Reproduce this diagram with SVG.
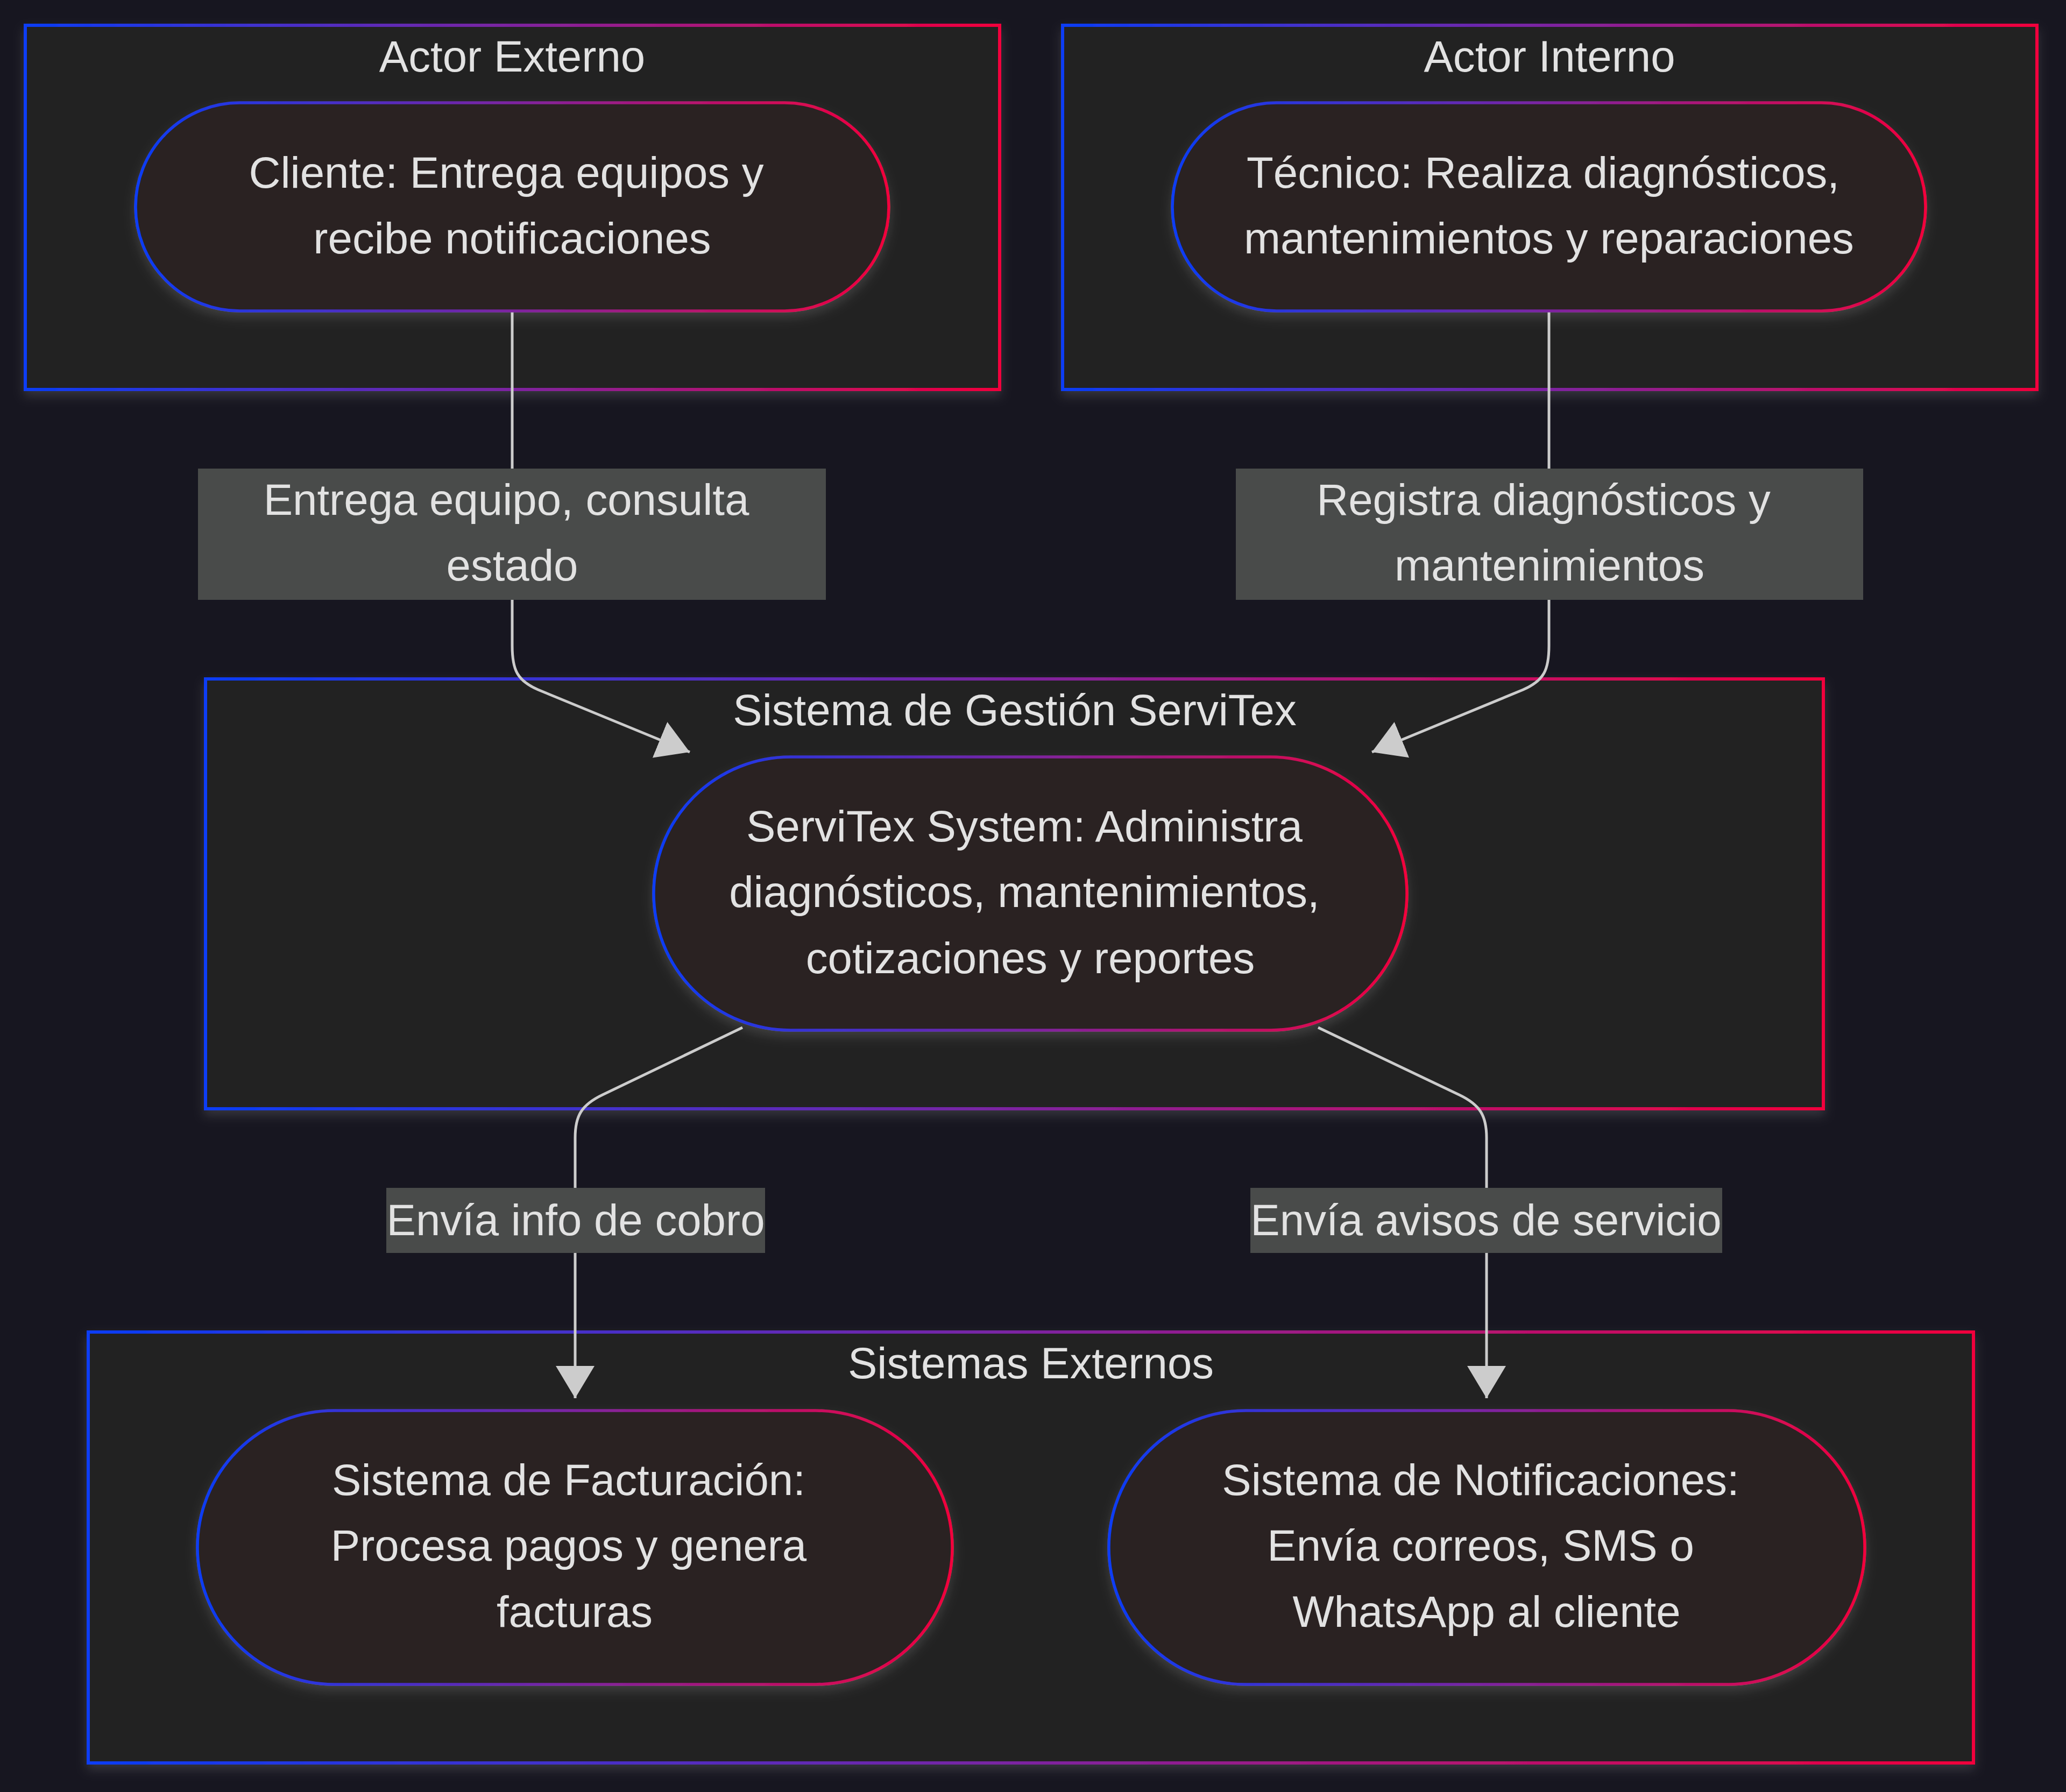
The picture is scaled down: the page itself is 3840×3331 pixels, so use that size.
<svg xmlns="http://www.w3.org/2000/svg" width="3840" height="3331" viewBox="0 0 3840 3331">
<defs>
  <linearGradient id="grad" x1="0" y1="0" x2="1" y2="0">
    <stop offset="0" stop-color="#0a3cf5"/>
    <stop offset="0.5" stop-color="#7d24a0"/>
    <stop offset="1" stop-color="#f2003c"/>
  </linearGradient>
  <filter id="shadow" x="-5%" y="-5%" width="110%" height="125%">
    <feDropShadow dx="0" dy="10" stdDeviation="10" flood-color="#ffffff" flood-opacity="0.13"/>
  </filter>
  <marker id="arrow" viewBox="0 0 60 72" refX="60" refY="36" markerWidth="60" markerHeight="72" markerUnits="userSpaceOnUse" orient="auto">
    <path d="M0,0 L60,36 L0,72 z" fill="#cccccc"/>
  </marker>
</defs>
<style>
  .cluster rect { fill: #202020; stroke: url(#grad); stroke-width: 6; filter: url(#shadow); }
  .node rect { fill: #2c2121; stroke: url(#grad); stroke-width: 5.5; filter: url(#shadow); }
  text { font-family: "Liberation Sans", Arial, sans-serif; font-size: 81.6px; fill: #e2e2e2; text-anchor: middle; }
  .edge { fill: none; stroke: #cccccc; stroke-width: 5; marker-end: url(#arrow); }
  .elabel rect { fill: #494b4a; }
</style>
<rect x="0" y="0" width="3840" height="3331" fill="#171620"/>

<g id="cluster-actor-externo" class="cluster">
  <rect x="47" y="47" width="1811" height="677"/>
  <text x="952" y="133">Actor Externo</text>
</g>
<g id="cluster-actor-interno" class="cluster">
  <rect x="1975" y="47" width="1811" height="677"/>
  <text x="2880" y="133">Actor Interno</text>
</g>
<g id="cluster-sistema-gestion" class="cluster">
  <rect x="382" y="1262" width="3007" height="799"/>
  <text x="1886" y="1348">Sistema de Gestión ServiTex</text>
</g>
<g id="cluster-sistemas-externos" class="cluster">
  <rect x="164" y="2476" width="3504" height="801"/>
  <text x="1916" y="2562">Sistemas Externos</text>
</g>

<g id="connectors">
  <path class="edge" d="M952,578 L952,1200 C952,1245 961,1265 1000,1282 L1282,1398"/>
  <path class="edge" d="M2879,578 L2879,1200 C2879,1245 2870,1265 2831,1282 L2550,1398"/>
  <path class="edge" d="M1380,1910 L1120,2035 C1080,2054 1069,2075 1069,2115 L1069,2599"/>
  <path class="edge" d="M2450,1910 L2712,2035 C2752,2054 2763,2075 2763,2115 L2763,2599"/>
</g>

<g id="edge-labels">
  <g id="label-entrega" class="elabel">
    <rect x="368" y="871" width="1167" height="244"/>
    <text x="941" y="957">Entrega equipo, consulta</text>
    <text x="952" y="1079">estado</text>
  </g>
  <g id="label-registra" class="elabel">
    <rect x="2297" y="871" width="1166" height="244"/>
    <text x="2869" y="957">Registra diagnósticos y</text>
    <text x="2880" y="1079">mantenimientos</text>
  </g>
  <g id="label-cobro" class="elabel">
    <rect x="718" y="2208" width="704" height="121"/>
    <text x="1070" y="2296">Envía info de cobro</text>
  </g>
  <g id="label-avisos" class="elabel">
    <rect x="2324" y="2208" width="877" height="121"/>
    <text x="2762" y="2296">Envía avisos de servicio</text>
  </g>
</g>

<g id="node-cliente" class="node">
  <rect x="252" y="191" width="1400" height="387" rx="193.5" ry="193.5"/>
  <text x="941" y="349">Cliente: Entrega equipos y</text>
  <text x="952" y="471">recibe notificaciones</text>
</g>
<g id="node-tecnico" class="node">
  <rect x="2179" y="191" width="1400" height="387" rx="193.5" ry="193.5"/>
  <text x="2868" y="349">Técnico: Realiza diagnósticos,</text>
  <text x="2879" y="471">mantenimientos y reparaciones</text>
</g>
<g id="node-servitex" class="node">
  <rect x="1215" y="1407" width="1400" height="508" rx="254" ry="254"/>
  <text x="1904" y="1564">ServiTex System: Administra</text>
  <text x="1904" y="1686">diagnósticos, mantenimientos,</text>
  <text x="1915" y="1809">cotizaciones y reportes</text>
</g>
<g id="node-facturacion" class="node">
  <rect x="367" y="2622" width="1403" height="509" rx="254.5" ry="254.5"/>
  <text x="1057" y="2779">Sistema de Facturación:</text>
  <text x="1057" y="2901">Procesa pagos y genera</text>
  <text x="1068" y="3024">facturas</text>
</g>
<g id="node-notificaciones" class="node">
  <rect x="2061" y="2622" width="1405" height="509" rx="254.5" ry="254.5"/>
  <text x="2752" y="2779">Sistema de Notificaciones:</text>
  <text x="2752" y="2901">Envía correos, SMS o</text>
  <text x="2763" y="3024">WhatsApp al cliente</text>
</g>
</svg>
